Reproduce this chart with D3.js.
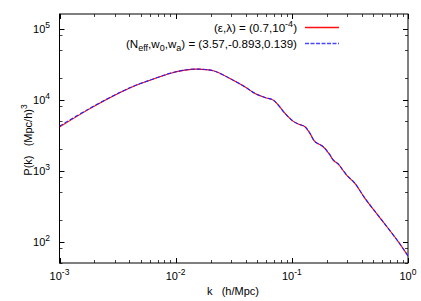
<!DOCTYPE html>
<html>
<head>
<meta charset="utf-8">
<script src="https://cdn.jsdelivr.net/npm/d3@7"></script>
<style>
  html, body { margin: 0; padding: 0; background: #fff; }
  svg { display: block; }
  text { font-family: "Liberation Sans", Arial, Helvetica, sans-serif; fill: #000; }
</style>
</head>
<body>
<svg id="chart" width="421" height="301"></svg>
<script>
// ---- data ----
const kValues = [0.001, 0.00177, 0.00343, 0.00474, 0.00664, 0.0089, 0.0120, 0.0152, 0.0211, 0.0293,
                 0.0394, 0.0481, 0.0587, 0.0692, 0.0764, 0.0873, 0.0996, 0.1135, 0.1297, 0.1432,
                 0.158, 0.186, 0.213, 0.227, 0.251, 0.268, 0.296, 0.349, 0.426, 0.593, 0.824, 1.0];
const pEpsLambda = [4100, 7210, 12850, 16250, 19800, 23280, 25950, 26800, 25350, 19800,
                    15100, 12200, 10700, 9820, 8350, 6390, 5140, 4520, 4140, 3340,
                    2550, 2165, 1655, 1407, 1236, 1076, 866, 662, 407, 202, 100, 63];
const pNeffW = [4220, 7330, 12950, 16330, 19870, 23330, 26000, 26830, 25380, 19830,
                15120, 12220, 10720, 9830, 8360, 6400, 5150, 4530, 4150, 3350,
                2560, 2170, 1660, 1410, 1238, 1078, 868, 663, 408, 202, 100, 63];
const xMajorTicks = [1e-3, 1e-2, 1e-1, 1e0];
const xTickExponents = ["-3", "-2", "-1", "0"];
const yMajorTicks = [1e2, 1e3, 1e4, 1e5];
const yTickExponents = ["2", "3", "4", "5"];
const yMinorMantissas = [2, 5, 8];

// ---- layout ----
const svg = d3.select("#chart");
const pL = 59.5, pR = 408, pT = 14, pB = 263;

const x = d3.scaleLog().domain([1e-3, 1]).range([pL, pR]);
const y = d3.scaleLog().domain([50, 1.6e5]).range([pB, pT]);

// minor ticks
const xMinor = [];
[1e-3, 1e-2, 1e-1].forEach(d => { for (let m = 2; m <= 9; m++) xMinor.push(d * m); });
const yMinor = [];
[10, 1e2, 1e3, 1e4].forEach(d => yMinorMantissas.forEach(m => {
  const v = d * m; if (v >= 50 && v <= 1.6e5) yMinor.push(v);
}));

const ticksG = svg.append("g").attr("stroke", "#000").attr("stroke-width", 1);
const majLen = 5, minLen = 3;
xMajorTicks.forEach(v => {
  const px = Math.round(x(v)) + 0.5;
  ticksG.append("line").attr("x1", px).attr("x2", px).attr("y1", pB).attr("y2", pB - majLen);
  ticksG.append("line").attr("x1", px).attr("x2", px).attr("y1", pT).attr("y2", pT + majLen);
});
xMinor.forEach(v => {
  const px = Math.round(x(v)) + 0.5;
  ticksG.append("line").attr("x1", px).attr("x2", px).attr("y1", pB).attr("y2", pB - minLen).attr("stroke", "#444");
  ticksG.append("line").attr("x1", px).attr("x2", px).attr("y1", pT).attr("y2", pT + minLen).attr("stroke", "#444");
});
yMajorTicks.forEach(v => {
  const py = Math.round(y(v)) + 0.5;
  ticksG.append("line").attr("x1", pL).attr("x2", pL + majLen).attr("y1", py).attr("y2", py);
  ticksG.append("line").attr("x1", pR).attr("x2", pR - majLen).attr("y1", py).attr("y2", py);
});
yMinor.forEach(v => {
  const py = Math.round(y(v)) + 0.5;
  ticksG.append("line").attr("x1", pL).attr("x2", pL + minLen).attr("y1", py).attr("y2", py).attr("stroke", "#444");
  ticksG.append("line").attr("x1", pR).attr("x2", pR - minLen).attr("y1", py).attr("y2", py).attr("stroke", "#444");
});

// frame
svg.append("rect").attr("x", pL).attr("y", pT).attr("width", pR - pL).attr("height", pB - pT)
  .attr("fill", "none").attr("stroke", "#000").attr("stroke-width", 1);

// tick labels
const fs = 11, sfs = 8.5;
xMajorTicks.forEach((v, i) => {
  const t = svg.append("text").attr("x", x(v)).attr("y", 280).attr("text-anchor", "middle").attr("font-size", fs);
  t.append("tspan").text("10");
  t.append("tspan").attr("font-size", sfs).attr("dy", -5).text(xTickExponents[i]);
});
yMajorTicks.forEach((v, i) => {
  const t = svg.append("text").attr("x", 50).attr("y", y(v) + 4).attr("text-anchor", "end").attr("font-size", fs);
  t.append("tspan").text("10");
  t.append("tspan").attr("font-size", sfs).attr("dy", -5).text(yTickExponents[i]);
});

// axis titles
svg.append("text").attr("x", 233).attr("y", 295).attr("text-anchor", "middle").attr("font-size", fs)
  .attr("xml:space", "preserve").text("k   (h/Mpc)");
const yt = svg.append("text").attr("transform", "translate(32,140) rotate(-90)")
  .attr("text-anchor", "middle").attr("font-size", fs).attr("xml:space", "preserve");
yt.append("tspan").text("P(k)   (Mpc/h)");
yt.append("tspan").attr("font-size", sfs).attr("dy", -5).text("3");

// curves
const lineGen = d3.line().x(d => x(d[0])).y(d => y(d[1])).curve(d3.curveCatmullRom.alpha(0.5));
const redData = kValues.map((k, i) => [k, pEpsLambda[i]]);
const blueData = kValues.map((k, i) => [k, pNeffW[i]]);
svg.append("clipPath").attr("id", "clip").append("rect")
  .attr("x", pL).attr("y", pT).attr("width", pR - pL).attr("height", pB - pT);
svg.append("path").attr("d", lineGen(redData)).attr("fill", "none").attr("stroke", "#ff0000")
  .attr("stroke-width", 1.1).attr("clip-path", "url(#clip)");
svg.append("path").attr("d", lineGen(blueData)).attr("fill", "none").attr("stroke", "#2020ff")
  .attr("stroke-width", 1.1).attr("stroke-dasharray", "4,2").attr("clip-path", "url(#clip)");

// legend
const lfs = 11.6, lsfs = 9;
const lx1 = 305, lx2 = 339;
const leg = svg.append("g");
const t1 = leg.append("text").attr("x", 297).attr("y", 31.5).attr("text-anchor", "end").attr("font-size", lfs);
t1.append("tspan").text("(\u03b5,\u03bb) = (0.7,10");
t1.append("tspan").attr("font-size", lsfs).attr("dy", -5).text("-4");
t1.append("tspan").attr("dy", 5).text(")");
leg.append("path").attr("d", `M${lx1},27.5H${lx2}`)
  .attr("fill", "none").attr("stroke", "#ff1010").attr("stroke-width", 1.6);

const t2 = leg.append("text").attr("x", 297).attr("y", 47.5).attr("text-anchor", "end").attr("font-size", lfs);
t2.append("tspan").text("(N");
t2.append("tspan").attr("font-size", lsfs).attr("dy", 3).text("eff");
t2.append("tspan").attr("dy", -3).text(",w");
t2.append("tspan").attr("font-size", lsfs).attr("dy", 3).text("0");
t2.append("tspan").attr("dy", -3).text(",w");
t2.append("tspan").attr("font-size", lsfs).attr("dy", 3).text("a");
t2.append("tspan").attr("dy", -3).text(") = (3.57,-0.893,0.139)");
leg.append("path").attr("d", `M${lx1},43.5H${lx2}`)
  .attr("fill", "none").attr("stroke", "#4848ff").attr("stroke-width", 1.6).attr("stroke-dasharray", "4,1.5");
</script>
</body>
</html>
